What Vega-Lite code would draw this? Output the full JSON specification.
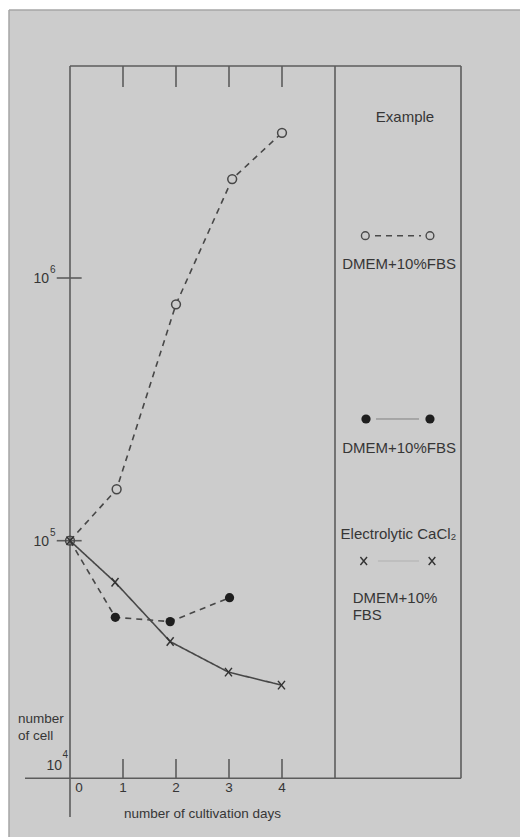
{
  "$schema": "https://vega.github.io/schema/vega-lite/v6.json",
  "width": 511,
  "height": 827,
  "autosize": {"type": "none"},
  "padding": {"left": 9, "top": 10, "right": 0, "bottom": 0},
  "background": "#ffffff",
  "config": {
    "view": {"fill": "#cccccc", "stroke": null},
    "axis": {"disable": true},
    "text": {"font": "Liberation Sans", "color": "#363636", "fontSize": 13.5, "baseline": "middle"}
  },
  "datasets": {
    "growth": [
      {"series": "open", "day": 0, "cells": 100000},
      {"series": "open", "day": 0.88, "cells": 157000},
      {"series": "open", "day": 2.0, "cells": 794000},
      {"series": "open", "day": 3.06, "cells": 2380000},
      {"series": "open", "day": 4.0, "cells": 3570000},
      {"series": "filled", "day": 0, "cells": 100000},
      {"series": "filled", "day": 0.855, "cells": 51100},
      {"series": "filled", "day": 1.89, "cells": 49200},
      {"series": "filled", "day": 3.01, "cells": 60700},
      {"series": "cacl2", "day": 0, "cells": 100000},
      {"series": "cacl2", "day": 0.85, "cells": 69500},
      {"series": "cacl2", "day": 1.89, "cells": 41300},
      {"series": "cacl2", "day": 2.99, "cells": 31600},
      {"series": "cacl2", "day": 3.99, "cells": 28200}
    ],
    "days": [{"day": 1}, {"day": 2}, {"day": 3}, {"day": 4}],
    "powers": [{"exp": "5", "cells": 100000}, {"exp": "6", "cells": 1000000}]
  },
  "data": {"values": [{}]},
  "layer": [
    {
      "mark": {"type": "rule", "color": "#a6a6a6", "strokeWidth": 1.5},
      "encoding": {
        "x": {"datum": -1.1509, "type": "quantitative", "scale": {"domain": [-1.1509, 8.4906], "nice": false, "zero": false}},
        "x2": {"datum": 8.4906},
        "y": {"datum": 10476000, "type": "quantitative", "scale": {"type": "log", "domain": [7449, 10476000], "nice": false}}
      }
    },
    {
      "mark": {"type": "rule", "color": "#a6a6a6", "strokeWidth": 1.5},
      "encoding": {
        "x": {"datum": -1.1509},
        "y": {"datum": 7449},
        "y2": {"datum": 10476000}
      }
    },
    {
      "data": {"name": "growth"},
      "mark": {"type": "line", "color": "#474747", "strokeWidth": 1.6},
      "encoding": {
        "x": {"field": "day", "type": "quantitative"},
        "y": {"field": "cells", "type": "quantitative"},
        "detail": {"field": "series"},
        "strokeDash": {
          "field": "series",
          "scale": {"domain": ["open", "filled", "cacl2"], "range": [[6, 5], [6, 5], [1, 0]]},
          "legend": null
        }
      }
    },
    {
      "mark": {"type": "rule", "color": "#5c5c5c", "strokeWidth": 1.6},
      "encoding": {"x": {"datum": 0}, "x2": {"datum": 7.3774}, "y": {"datum": 6412000}}
    },
    {
      "mark": {"type": "rule", "color": "#5c5c5c", "strokeWidth": 1.6},
      "encoding": {"x": {"datum": 0}, "y": {"datum": 8876}, "y2": {"datum": 6412000}}
    },
    {
      "mark": {"type": "rule", "color": "#5c5c5c", "strokeWidth": 1.6},
      "encoding": {"x": {"datum": 5.0}, "y": {"datum": 12460}, "y2": {"datum": 6412000}}
    },
    {
      "mark": {"type": "rule", "color": "#5c5c5c", "strokeWidth": 1.6},
      "encoding": {"x": {"datum": 7.3774}, "y": {"datum": 12460}, "y2": {"datum": 6412000}}
    },
    {
      "mark": {"type": "rule", "color": "#5c5c5c", "strokeWidth": 1.6},
      "encoding": {"x": {"datum": -0.849}, "x2": {"datum": 7.3774}, "y": {"datum": 12460}}
    },
    {
      "data": {"name": "days"},
      "mark": {"type": "rule", "color": "#5c5c5c", "strokeWidth": 1.6},
      "encoding": {"x": {"field": "day", "type": "quantitative"}, "y": {"datum": 5334000}, "y2": {"datum": 6412000}}
    },
    {
      "data": {"name": "days"},
      "mark": {"type": "rule", "color": "#5c5c5c", "strokeWidth": 1.6},
      "encoding": {"x": {"field": "day", "type": "quantitative"}, "y": {"datum": 14757}, "y2": {"datum": 12460}}
    },
    {
      "data": {"name": "powers"},
      "mark": {"type": "rule", "color": "#5c5c5c", "strokeWidth": 1.6},
      "encoding": {"x": {"datum": -0.25}, "x2": {"datum": 0.22}, "y": {"field": "cells", "type": "quantitative"}}
    },
    {
      "data": {"name": "growth"},
      "transform": [{"filter": "datum.series === 'open'"}],
      "mark": {"type": "point", "shape": "circle", "size": 78, "stroke": "#474747", "strokeWidth": 1.5, "opacity": 1},
      "encoding": {
        "x": {"field": "day", "type": "quantitative"},
        "y": {"field": "cells", "type": "quantitative"},
        "fill": {"condition": {"test": "datum.day === 0", "value": "transparent"}, "value": "#cccccc"}
      }
    },
    {
      "data": {"name": "growth"},
      "transform": [{"filter": "datum.series === 'filled' && datum.day > 0"}],
      "mark": {"type": "point", "shape": "circle", "filled": true, "size": 85, "color": "#1e1e1e", "opacity": 1},
      "encoding": {
        "x": {"field": "day", "type": "quantitative"},
        "y": {"field": "cells", "type": "quantitative"}
      }
    },
    {
      "data": {"name": "growth"},
      "transform": [{"filter": "datum.series === 'cacl2'"}],
      "mark": {"type": "point", "shape": "M-0.7,-0.85L0.7,0.85M0.7,-0.85L-0.7,0.85", "size": 100, "stroke": "#333333", "strokeWidth": 1.5, "filled": false, "opacity": 1},
      "encoding": {
        "x": {"field": "day", "type": "quantitative"},
        "y": {"field": "cells", "type": "quantitative"}
      }
    },
    {
      "data": {"name": "powers"},
      "mark": {"type": "text", "text": "10", "align": "right", "dy": 1, "fontSize": 14},
      "encoding": {"x": {"datum": -0.3962}, "y": {"field": "cells", "type": "quantitative"}}
    },
    {
      "data": {"name": "powers"},
      "mark": {"type": "text", "align": "left", "dy": -8, "fontSize": 10},
      "encoding": {"x": {"datum": -0.3774}, "y": {"field": "cells", "type": "quantitative"}, "text": {"field": "exp"}}
    },
    {
      "mark": {"type": "text", "text": "10", "align": "right", "dy": -12, "fontSize": 14},
      "encoding": {"x": {"datum": -0.1509}, "y": {"datum": 12460}}
    },
    {
      "mark": {"type": "text", "text": "4", "align": "left", "dy": -23, "fontSize": 10},
      "encoding": {"x": {"datum": -0.1415}, "y": {"datum": 12460}}
    },
    {
      "mark": {"type": "text", "text": ["number", "of cell"], "align": "left", "baseline": "alphabetic", "lineHeight": 17},
      "encoding": {"x": {"datum": -0.981}, "y": {"datum": 20230}}
    },
    {
      "data": {"name": "days"},
      "mark": {"type": "text", "dy": 10},
      "encoding": {"x": {"field": "day", "type": "quantitative"}, "y": {"datum": 12460}, "text": {"field": "day"}}
    },
    {
      "mark": {"type": "text", "text": "0", "dx": 9, "dy": 10},
      "encoding": {"x": {"datum": 0}, "y": {"datum": 12460}}
    },
    {
      "mark": {"type": "text", "text": "number of cultivation days", "dy": 36},
      "encoding": {"x": {"datum": 2.5}, "y": {"datum": 12460}}
    },
    {
      "mark": {"type": "text", "text": "Example", "fontSize": 15},
      "encoding": {"x": {"datum": 6.321}, "y": {"datum": 4103000}}
    },
    {
      "mark": {"type": "rule", "color": "#4a4a4a", "strokeWidth": 1.4, "strokeDash": [6, 5]},
      "encoding": {"x": {"datum": 5.755}, "x2": {"datum": 6.623}, "y": {"datum": 1449000}}
    },
    {
      "mark": {"type": "point", "shape": "circle", "size": 60, "stroke": "#4a4a4a", "strokeWidth": 1.4, "fill": "#cccccc", "opacity": 1},
      "encoding": {"x": {"datum": 5.572}, "y": {"datum": 1449000}}
    },
    {
      "mark": {"type": "point", "shape": "circle", "size": 60, "stroke": "#4a4a4a", "strokeWidth": 1.4, "fill": "#cccccc", "opacity": 1},
      "encoding": {"x": {"datum": 6.792}, "y": {"datum": 1449000}}
    },
    {
      "mark": {"type": "text", "text": "DMEM+10%FBS", "fontSize": 15},
      "encoding": {"x": {"datum": 6.208}, "y": {"datum": 1130600}}
    },
    {
      "mark": {"type": "rule", "color": "#808080", "strokeWidth": 1},
      "encoding": {"x": {"datum": 5.774}, "x2": {"datum": 6.585}, "y": {"datum": 290600}}
    },
    {
      "mark": {"type": "point", "shape": "circle", "filled": true, "size": 85, "color": "#1e1e1e", "opacity": 1},
      "encoding": {"x": {"datum": 5.585}, "y": {"datum": 290600}}
    },
    {
      "mark": {"type": "point", "shape": "circle", "filled": true, "size": 85, "color": "#1e1e1e", "opacity": 1},
      "encoding": {"x": {"datum": 6.792}, "y": {"datum": 290600}}
    },
    {
      "mark": {"type": "text", "text": "DMEM+10%FBS", "fontSize": 15},
      "encoding": {"x": {"datum": 6.208}, "y": {"datum": 224740}}
    },
    {
      "mark": {"type": "text", "text": "Electrolytic CaCl₂", "fontSize": 15},
      "encoding": {"x": {"datum": 6.198}, "y": {"datum": 105770}}
    },
    {
      "mark": {"type": "rule", "color": "#b0b0b0", "strokeWidth": 1},
      "encoding": {"x": {"datum": 5.811}, "x2": {"datum": 6.585}, "y": {"datum": 83700}}
    },
    {
      "mark": {"type": "point", "shape": "M-0.7,-0.85L0.7,0.85M0.7,-0.85L-0.7,0.85", "size": 90, "stroke": "#333333", "strokeWidth": 1.4, "filled": false, "opacity": 1},
      "encoding": {"x": {"datum": 5.542}, "y": {"datum": 83700}}
    },
    {
      "mark": {"type": "point", "shape": "M-0.7,-0.85L0.7,0.85M0.7,-0.85L-0.7,0.85", "size": 90, "stroke": "#333333", "strokeWidth": 1.4, "filled": false, "opacity": 1},
      "encoding": {"x": {"datum": 6.83}, "y": {"datum": 83700}}
    },
    {
      "mark": {"type": "text", "text": ["DMEM+10%", "FBS"], "align": "left", "baseline": "alphabetic", "lineHeight": 17.3, "fontSize": 15},
      "encoding": {"x": {"datum": 5.334}, "y": {"datum": 58000}}
    }
  ]
}
